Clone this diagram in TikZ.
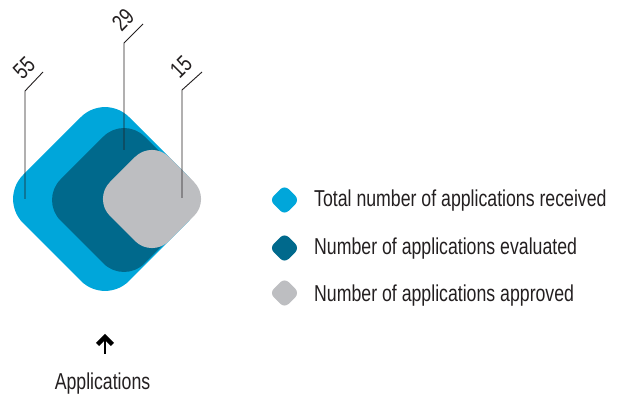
\documentclass[tikz,border=0pt]{standalone}
\usepackage{fontspec}
\setmainfont{Liberation Sans}[FakeStretch=0.77]
\usetikzlibrary{arrows.meta}
\definecolor{cLight}{RGB}{0,166,218}
\definecolor{cDark}{RGB}{0,105,140}
\definecolor{cGray}{RGB}{189,190,193}
\definecolor{txtgray}{RGB}{35,31,32}
\tikzset{
  txt/.style={font=\fontsize{23}{27}\selectfont, text=txtgray, inner sep=0pt},
  numlabel/.style={txt, rotate=45, anchor=base west},
  leader/.style={draw=txtgray, line width=0.9pt},
}
\newcommand{\rdiamond}[5]{% color, cx, cy, d, r
  \fill[#1, rounded corners=#5pt] (#2-#4,#3) -- (#2,#3-#4) -- (#2+#4,#3) -- (#2,#3+#4) -- cycle;}
\begin{document}
\begin{tikzpicture}[x=1pt,y=-1pt]
\useasboundingbox (0,0) rectangle (619,395);
% diamonds
\rdiamond{cLight}{105}{199}{106}{34}
\rdiamond{cDark}{124}{200}{84}{29}
\rdiamond{cGray}{152}{199}{59}{24}
% leader lines
\coordinate (a1) at (25,199); \coordinate (a2) at (25,91); \coordinate (a3) at (43,72);
\coordinate (b1) at (124,150); \coordinate (b2) at (124,43); \coordinate (b3) at (143,24);
\coordinate (c1) at (182,198); \coordinate (c2) at (182,90); \coordinate (c3) at (202,72);
\draw[leader] (a1) -- (a2) -- (a3);
\draw[leader] (b1) -- (b2) -- (b3);
\draw[leader] (c1) -- (c2) -- (c3);
\node[numlabel] (n55) at (22.6,80.5) {55};
\node[numlabel] (n29) at (121.6,32.5) {29};
\node[numlabel] (n15) at (179.6,79.5) {15};
% legend
\rdiamond{cLight}{284.5}{200}{15}{6}
\rdiamond{cDark}{284.5}{248}{15}{6}
\rdiamond{cGray}{284.5}{293}{15}{6}
\node[txt, anchor=base west] (l1) at (314,207) {Total number of applications received};
\node[txt, anchor=base west] (l2) at (314,255) {Number of applications evaluated};
\node[txt, anchor=base west] (l3) at (314,302) {Number of applications approved};
% applications arrow
\node[txt, anchor=base] (apps) at (102.5,390) {Applications};
\coordinate (arrbase) at (105,354);
\coordinate (arrtip) at (105,337);
\coordinate (wingL) at (97.5,344.5);
\coordinate (wingR) at (112.5,344.5);
\draw[black, line width=1.3pt] (arrbase) -- (arrtip);
\draw[black, line width=4.5pt, line join=miter, miter limit=10] (wingL) -- (arrtip) -- (wingR);
\end{tikzpicture}
\end{document}
